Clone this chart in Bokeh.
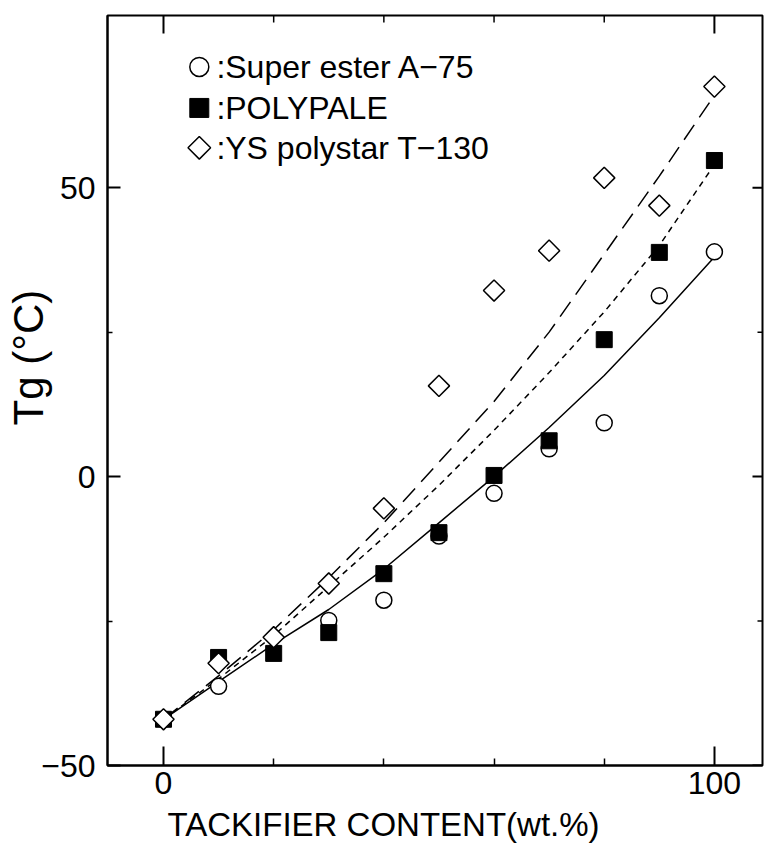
import numpy as np
from bokeh.plotting import figure
from bokeh.models import Range1d, FixedTicker, LinearAxis, Label, Title
from bokeh.embed import file_html
from bokeh.resources import INLINE

# ---------------- data ----------------
content = [0, 10, 20, 30, 40, 50, 60, 70, 80, 90, 100]

ester_x = [0, 10, 30, 40, 50, 60, 70, 80, 90, 100]
ester_tg = [-42, -36.3, -24.9, -21.4, -10.3, -2.9, 4.8, 9.3, 31.3, 38.9]

polypale_x = [0, 10, 20, 30, 40, 50, 60, 70, 80, 90, 100]
polypale_tg = [-42, -31.3, -30.6, -27, -16.8, -9.7, 0.2, 6.2, 23.7, 38.8, 54.7]

polystar_x = [0, 10, 20, 30, 40, 50, 60, 70, 80, 90, 100]
polystar_tg = [-42, -32.3, -27.8, -18.5, -5.5, 15.7, 32.2, 39.1, 51.7, 46.9, 67.5]

# fitted curves
fit_x = [0, 10, 20, 30, 40, 50, 60, 70, 80, 90, 100]
fit_ester = [-42, -35.5, -29, -23, -16, -8, 0, 8.5, 17.5, 27.5, 38]
fit_polypale = [-42, -35, -27.5, -19, -10.5, -1.5, 8, 18, 28.5, 40, 54]
fit_polystar = [-42, -34.5, -26.5, -17.5, -8, 2.5, 13, 25, 38.5, 52, 66]

series_names = [":Super ester A\u221275", ":POLYPALE", ":YS polystar T\u2212130"]
x_ticks = [0, 100]
x_minor = [20, 40, 60, 80]
y_ticks = [-50, 0, 50]
y_minor = [-25, 25]
x_label = "TACKIFIER CONTENT(wt.%)"
y_label = "Tg (\u00b0C)"

FONT = "Liberation Sans"
X0, X1 = -10.165, 108.73
Y0, Y1 = -50, 79.8

p = figure(width=765, height=863, output_backend="svg", toolbar_location=None,
           x_range=Range1d(X0, X1), y_range=Range1d(Y0, Y1),
           min_border_left=107, min_border_right=3, min_border_top=15,
           min_border_bottom=98, x_axis_type=None, y_axis_type=None)
p.grid.visible = False
p.outline_line_color = "black"
p.outline_line_width = 2
p.background_fill_color = "white"
p.border_fill_color = "white"


def make_axis(place, ticker, major_in, minor_in):
    ax = LinearAxis(ticker=ticker)
    ax.axis_line_color = "black"
    ax.axis_line_width = 2
    ax.major_tick_in = major_in
    ax.major_tick_out = 0
    ax.minor_tick_in = minor_in
    ax.minor_tick_out = 0
    ax.major_tick_line_width = 2
    ax.minor_tick_line_width = 1.5
    ax.major_label_text_font = FONT
    ax.major_label_text_font_size = "32px"
    ax.major_label_text_color = "black"
    ax.major_label_overrides = {-50: "\u221250"}
    p.add_layout(ax, place)
    return ax


xb = make_axis("below", FixedTicker(ticks=x_ticks, minor_ticks=x_minor), 19, 7)
xb.major_label_standoff = 6
yl = make_axis("left", FixedTicker(ticks=y_ticks, minor_ticks=y_minor), 13, 5)
yl.major_label_standoff = 12

# axis titles as side panels
xt = Title(text=x_label, align="left", offset=60, text_font=FONT,
           text_font_size="33px", text_font_style="normal", standoff=14,
           text_color="black")
p.add_layout(xt, "below")
yt = Title(text=y_label, align="left", offset=340, text_font=FONT,
           text_font_size="42px", text_font_style="normal", standoff=-26,
           text_color="black")
p.add_layout(yt, "left")

# inward ticks on the top and right frame edges (from the tick arrays)
top_major_len, top_minor_len = 18 / 5.778, 7 / 5.778
right_major_len, right_minor_len = 10 / 5.509, 5 / 5.509
p.segment(x0=x_ticks, y0=[Y1] * len(x_ticks), x1=x_ticks,
          y1=[Y1 - top_major_len] * len(x_ticks), line_color="black", line_width=2)
p.segment(x0=x_minor, y0=[Y1] * len(x_minor), x1=x_minor,
          y1=[Y1 - top_minor_len] * len(x_minor), line_color="black", line_width=1.5)
p.segment(x0=[X1] * len(y_ticks), y0=y_ticks, x1=[X1 - right_major_len] * len(y_ticks),
          y1=y_ticks, line_color="black", line_width=2)
p.segment(x0=[X1] * len(y_minor), y0=y_minor, x1=[X1 - right_minor_len] * len(y_minor),
          y1=y_minor, line_color="black", line_width=1.5)

# fitted curves
p.line(fit_x, fit_ester, line_color="black", line_width=1.5)
p.line(fit_x, fit_polypale, line_color="black", line_width=1.5, line_dash="6 5")
p.line(fit_x, fit_polystar, line_color="black", line_width=1.5, line_dash="18 9")

# data points
p.scatter(ester_x, ester_tg, marker="circle", size=16, fill_color="white",
          line_color="black", line_width=1.5)
p.scatter(polypale_x, polypale_tg, marker="square", size=16, fill_color="black",
          line_color="black", line_width=1)
p.scatter(polystar_x, polystar_tg, marker="square", angle=np.pi / 4, size=15,
          fill_color="white", line_color="black", line_width=1.5)

# legend (layout constants)
leg_x = 6.5
leg_y = [70.9, 63.8, 56.9]
p.scatter([leg_x], [leg_y[0]], marker="circle", size=19, fill_color="white",
          line_color="black", line_width=1.5)
p.scatter([leg_x], [leg_y[1]], marker="square", size=19, fill_color="black",
          line_color="black")
p.scatter([leg_x], [leg_y[2]], marker="square", angle=np.pi / 4, size=16,
          fill_color="white", line_color="black", line_width=1.5)
for name, yy in zip(series_names, leg_y):
    p.add_layout(Label(x=9.6, y=yy, text=name, text_font=FONT,
                       text_font_size="32px", text_baseline="middle",
                       text_align="left", text_color="black"))

open("out.html", "w").write(file_html(p, INLINE))
